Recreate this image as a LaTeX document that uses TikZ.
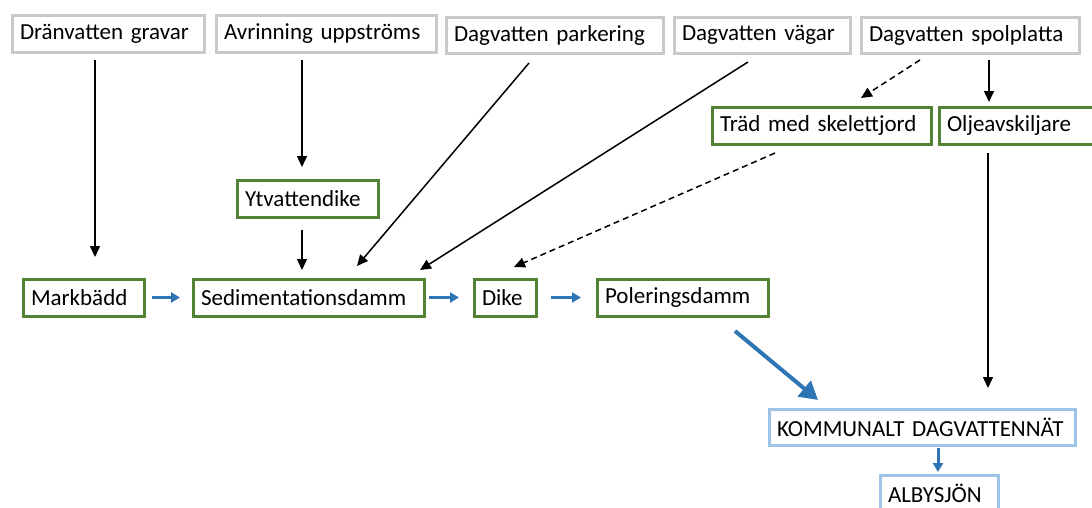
\documentclass[tikz,border=0pt]{standalone}
\usepackage{fontspec}
\setmainfont{Carlito}
\usetikzlibrary{arrows.meta,calc}
\definecolor{boxgray}{HTML}{C9C9C9}
\definecolor{boxgreen}{HTML}{548235}
\definecolor{boxblue}{HTML}{9DC3E6}
\definecolor{flowblue}{HTML}{2E75B6}
\tikzset{
  bx/.style={draw, line width=3pt, fill=white, inner xsep=8pt, inner ysep=0pt,
    align=left, anchor=north west, font=\fontsize{23}{25}\selectfont},
  gray box/.style={bx, draw=boxgray},
  green box/.style={bx, draw=boxgreen},
  blue box/.style={bx, draw=boxblue},
  dims/.code 2 args={\pgfmathsetmacro\boxtw{#1-16}\tikzset{minimum width=#1pt, minimum height=#2pt, text width=\boxtw pt}},
  blk/.style={line width=1.5pt, -{Triangle[length=11pt,width=10pt]}},
  dsh/.style={blk, dash pattern=on 6pt off 4pt},
  flow/.style={draw=flowblue, line width=3pt, -{Triangle[length=9pt,width=10pt]}, color=flowblue},
  bigflow/.style={draw=flowblue, line width=4pt, -{Triangle[length=18pt,width=20pt]}, color=flowblue}
}
\begin{document}
\begin{tikzpicture}[x=1pt,y=-1pt]
\useasboundingbox (0,0) rectangle (1092,507);
% top row
\node[gray box, dims={192}{37}] (dran) at (10.5,13.5) {Dränvatten gravar};
\node[gray box, dims={220}{37}] (avr) at (214.5,13.5) {Avrinning uppströms};
\node[gray box, dims={217}{36}] (park) at (444.5,15.5) {Dagvatten parkering};
\node[gray box, dims={176}{36}] (vag) at (672.5,15.5) {Dagvatten vägar};
\node[gray box, dims={218}{36}] (spol) at (859.5,15.5) {Dagvatten spolplatta};
% second row
\node[green box, dims={219}{37}] (trad) at (710.5,105.5) {Träd med skelettjord};
\node[green box, dims={160}{37}] (olje) at (937.5,105.5) {Oljeavskiljare};
\node[green box, dims={141}{37}] (ytv) at (235.5,178.5) {Ytvattendike};
% main row
\node[green box, dims={121}{37}] (mark) at (21.5,277.5) {Markbädd};
\node[green box, dims={231}{37}] (sed) at (191.5,277.5) {Sedimentationsdamm};
\node[green box, dims={62}{37}] (dike) at (472.5,277.5) {Dike};
\node[green box, dims={171}{37}] (pol) at (595.5,277.5) {Poleringsdamm};
% outlet
\node[blue box, dims={306}{36}] (komm) at (767.5,407.5) {KOMMUNALT DAGVATTENNÄT};
\node[blue box, dims={118}{37}] (alby) at (878.5,473.5) {ALBYSJÖN};
% black connectors
\draw[blk] ($(dran.south west)+(84.5,6.5)$) -- ($(mark.north west)+(73.5,-20.5)$);
\draw[blk] ($(avr.south west)+(87.5,6.5)$) -- ($(ytv.north west)+(66.5,-11.5)$);
\draw[blk] ($(ytv.south west)+(66.5,11.5)$) -- ($(sed.north west)+(110.5,-7.5)$);
\draw[blk] ($(park.south west)+(84.5,8.5)$) -- ($(sed.north west)+(165.5,-11.5)$);
\draw[blk] ($(vag.south west)+(75.5,7.5)$) -- ($(sed.north west)+(228.5,-7.5)$);
\draw[dsh] ($(spol.south west)+(60.5,5.5)$) -- ($(trad.north west)+(150.5,-7.5)$);
\draw[blk] ($(spol.south west)+(129.5,5.5)$) -- ($(olje.north west)+(51.5,-3.5)$);
\draw[dsh] ($(trad.south west)+(64.5,7.5)$) -- ($(dike.north west)+(41.5,-10.5)$);
\draw[blk] ($(olje.south west)+(50.5,7.5)$) -- ($(komm.north west)+(220.5,-19.5)$);
% blue flow
\draw[flow] ($(mark.east)+(6.5,0)$) -- ($(sed.west)+(-11.5,0)$);
\draw[flow] ($(sed.east)+(3.5,0)$) -- ($(dike.west)+(-13.5,0)$);
\draw[flow] ($(dike.east)+(13.5,0)$) -- ($(pol.west)+(-14.5,0)$);
\draw[bigflow] ($(pol.south west)+(139.5,13.5)$) -- ($(komm.north west)+(50.5,-7.5)$);
\draw[flow] ($(komm.south west)+(170.5,1.5)$) -- ($(alby.north west)+(59.5,-1.5)$);
\end{tikzpicture}
\end{document}
